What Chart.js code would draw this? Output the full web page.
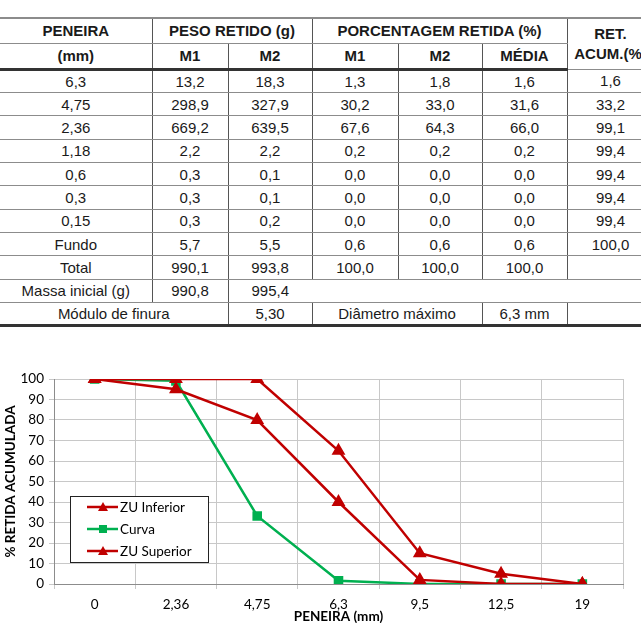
<!DOCTYPE html>
<html>
<head>
<meta charset="utf-8">
<script src="https://cdn.jsdelivr.net/npm/chart.js@4"></script>
<style>
  body { margin: 0; width: 641px; height: 623px; overflow: hidden; background: #fff; position: relative; }
  #tab { position: absolute; left: 0; top: 17px; border-collapse: collapse; table-layout: fixed; width: 654px;
         font-family: Arial, "Liberation Sans", Helvetica, sans-serif; font-size: 15px; color: #1a1a1a; }
  #tab td { text-align: center; padding: 0; white-space: nowrap; overflow: visible;
            border-top: 1px solid #8c8c8c; border-bottom: 1px solid #8c8c8c;
            border-left: 1px solid #555; border-right: 1px solid #555; }
  #tab td:first-child { border-left: none; }
  #tab tr.h1 td { font-weight: bold; border-top: 2px solid #8c8c8c; }
  #tab tr.h2 td { font-weight: bold; border-bottom: 3px solid #333; }
  #tab tr.last td { border-bottom: 3px solid #333; }
  #tab td.nob { border-left: none !important; border-right: none !important; }
  #tab td.ret { line-height: 20px; font-weight: bold; }
  #wrap { position: absolute; left: 0; top: 360px; width: 641px; height: 263px; }
</style>
</head>
<body>
<table id="tab">
  <colgroup>
    <col style="width:152px"><col style="width:76px"><col style="width:84px"><col style="width:86px">
    <col style="width:84px"><col style="width:85px"><col style="width:87px">
  </colgroup>
  <tbody id="tbody"></tbody>
</table>
<div id="wrap"><canvas id="granChart"></canvas></div>
<script>
  // tabela
  const peneiras = ['6,3', '4,75', '2,36', '1,18', '0,6', '0,3', '0,15', 'Fundo'];
  const pesoM1 = ['13,2', '298,9', '669,2', '2,2', '0,3', '0,3', '0,3', '5,7'];
  const pesoM2 = ['18,3', '327,9', '639,5', '2,2', '0,1', '0,1', '0,2', '5,5'];
  const pctM1 = ['1,3', '30,2', '67,6', '0,2', '0,0', '0,0', '0,0', '0,6'];
  const pctM2 = ['1,8', '33,0', '64,3', '0,2', '0,0', '0,0', '0,0', '0,6'];
  const pctMedia = ['1,6', '31,6', '66,0', '0,2', '0,0', '0,0', '0,0', '0,6'];
  const retAcum = ['1,6', '33,2', '99,1', '99,4', '99,4', '99,4', '99,4', '100,0'];
  const totalRow = ['Total', '990,1', '993,8', '100,0', '100,0', '100,0', ''];
  const massaRow = ['Massa inicial (g)', '990,8', '995,4'];
  const moduloFinura = '5,30';
  const diametroMax = '6,3 mm';

  // gráfico
  const sieves = ['0', '2,36', '4,75', '6,3', '9,5', '12,5', '19'];
  const zuInferior = [100, 95, 80, 40, 2, 0, 0];
  const curva = [100, 99.1, 33.2, 1.6, 0, 0, 0];
  const zuSuperior = [100, 100, 100, 65, 15, 5, 0];

  const tbody = document.getElementById('tbody');
  const dataH = 23.36;
  let html = '';
  html += '<tr class="h1" style="height:25px"><td>PENEIRA</td><td colspan="2">PESO RETIDO (g)</td>' +
          '<td colspan="3">PORCENTAGEM RETIDA (%)</td><td rowspan="2" class="ret">RET.<br>ACUM.(%)</td></tr>';
  html += '<tr class="h2" style="height:26px"><td>(mm)</td><td>M1</td><td>M2</td><td>M1</td><td>M2</td><td>MÉDIA</td></tr>';
  for (let i = 0; i < peneiras.length; i++) {
    html += `<tr style="height:${dataH}px"><td>${peneiras[i]}</td><td>${pesoM1[i]}</td><td>${pesoM2[i]}</td>` +
            `<td>${pctM1[i]}</td><td>${pctM2[i]}</td><td>${pctMedia[i]}</td><td>${retAcum[i]}</td></tr>`;
  }
  html += `<tr style="height:${dataH}px">` + totalRow.map(t => `<td>${t}</td>`).join('') + '</tr>';
  html += `<tr style="height:${dataH}px">` + massaRow.map((t, i) => `<td${i === 2 ? ' style="border-right:none"' : ''}>${t}</td>`).join('') +
          '<td colspan="4" class="nob"></td></tr>';
  html += `<tr class="last" style="height:${dataH}px"><td colspan="2">Módulo de finura</td><td>${moduloFinura}</td>` +
          `<td colspan="2">Diâmetro máximo</td><td>${diametroMax}</td><td></td></tr>`;
  tbody.innerHTML = html;

  // legenda dentro do gráfico
  const boxLegend = {
    id: 'boxLegend',
    afterDraw(chart) {
      const ctx = chart.ctx;
      const area = chart.chartArea;
      const x = area.left + 16, y = area.top + 117, w = 138, h = 66;
      ctx.save();
      ctx.fillStyle = '#fff';
      ctx.fillRect(x, y, w, h);
      ctx.strokeStyle = '#222';
      ctx.lineWidth = 1;
      ctx.strokeRect(x + 0.5, y + 0.5, w, h);
      chart.data.datasets.forEach((ds, i) => {
        const ly = y + 11 + i * 22;
        ctx.strokeStyle = ds.borderColor;
        ctx.lineWidth = 2.5;
        ctx.beginPath();
        ctx.moveTo(x + 17, ly);
        ctx.lineTo(x + 48, ly);
        ctx.stroke();
        ctx.fillStyle = ds.backgroundColor;
        const mx = x + 33;
        if (ds.pointStyle === 'triangle') {
          ctx.beginPath();
          ctx.moveTo(mx, ly - 5);
          ctx.lineTo(mx + 5, ly + 4);
          ctx.lineTo(mx - 5, ly + 4);
          ctx.closePath();
          ctx.fill();
        } else {
          ctx.fillRect(mx - 4, ly - 4, 8, 8);
        }
        ctx.fillStyle = '#000';
        ctx.font = '13.5px Lato';
        ctx.textBaseline = 'middle';
        ctx.fillText(ds.label, x + 50, ly + 1);
      });
      ctx.restore();
    }
  };

  const gran = document.getElementById('granChart').getContext('2d');
  const granChart = new Chart(gran, {
    type: 'line',
    data: {
      labels: sieves,
      datasets: [{
        label: 'ZU Inferior',
        data: zuInferior,
        borderColor: '#C00000',
        backgroundColor: '#C00000',
        pointStyle: 'triangle',
        pointRadius: 5.5,
        borderWidth: 2.5,
        order: 1
      }, {
        label: 'Curva',
        data: curva,
        borderColor: '#00B050',
        backgroundColor: '#00B050',
        pointStyle: 'rect',
        pointRadius: 5,
        borderWidth: 2.5,
        order: 3
      }, {
        label: 'ZU Superior',
        data: zuSuperior,
        borderColor: '#C00000',
        backgroundColor: '#C00000',
        pointStyle: 'triangle',
        pointRadius: 5.5,
        borderWidth: 2.5,
        order: 2
      }]
    },
    options: {
      responsive: true,
      maintainAspectRatio: false,
      animation: false,
      layout: { padding: { top: 19, right: 18, left: 0, bottom: 0 } },
      plugins: { legend: { display: false }, tooltip: { enabled: false } },
      elements: { line: { tension: 0 } },
      scales: {
        x: {
          offset: true,
          grid: { offset: true, color: '#c8c8c8', tickLength: 5 },
          border: { color: '#8c8c8c' },
          ticks: { font: { family: 'Lato', size: 13.5 }, color: '#000', padding: 8, maxRotation: 0 },
          title: { display: true, text: 'PENEIRA (mm)', font: { family: 'Lato', size: 13.5, weight: 'bold' }, color: '#000', padding: { top: 0, bottom: -2 } },
          afterFit: scale => { scale.height = 39; }
        },
        y: {
          min: 0,
          max: 100,
          ticks: { stepSize: 10, font: { family: 'Lato', size: 13.5 }, color: '#000', padding: 5 },
          grid: { color: '#c8c8c8', tickLength: 5 },
          border: { color: '#8c8c8c' },
          title: { display: true, text: '% RETIDA ACUMULADA', font: { family: 'Lato', size: 13.5, weight: 'bold' }, color: '#000', padding: { top: 3, bottom: 0 } },
          afterFit: scale => { scale.width = 54; }
        }
      }
    },
    plugins: [boxLegend]
  });
</script>
</body>
</html>
